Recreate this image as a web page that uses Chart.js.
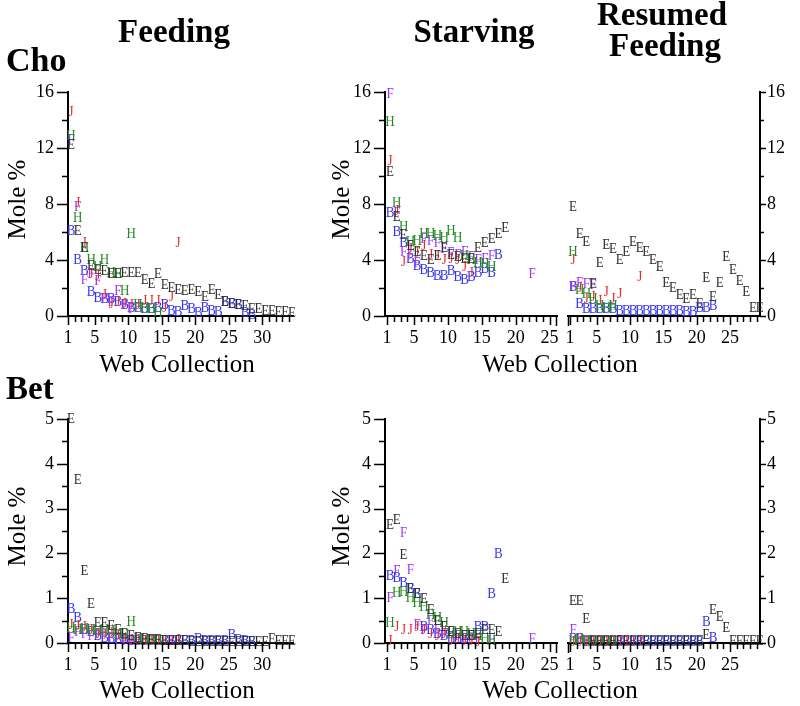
<!DOCTYPE html>
<html>
<head>
<meta charset="utf-8">
<script src="https://cdn.jsdelivr.net/npm/chart.js@4.4.1/dist/chart.umd.min.js"></script>
<style>
html,body{margin:0;padding:0;background:#fff;}
#wrap{position:relative;width:800px;height:706px;overflow:hidden;font-family:'Liberation Serif','Times New Roman',serif;color:#000;}
#wrap canvas{position:absolute;left:0;top:0;}
.t{position:absolute;white-space:nowrap;line-height:1;}
.b{font-weight:bold;}
.ctr{text-align:center;width:300px;}
.rot{text-align:center;width:200px;height:25px;font-size:25px;line-height:25px;transform:rotate(-90deg);transform-origin:50% 50%;}
</style>
</head>
<body>
<div id="wrap">
<canvas id="c1" width="800" height="706"></canvas>
<canvas id="c2" width="800" height="706"></canvas>
<canvas id="c3" width="800" height="706"></canvas>
<canvas id="c4" width="800" height="706"></canvas>
<canvas id="c5" width="800" height="706"></canvas>
<canvas id="c6" width="800" height="706"></canvas>

<div class="t b ctr" style="font-size:33px;left:24px;top:15px;">Feeding</div>
<div class="t b ctr" style="font-size:33px;left:324px;top:15px;">Starving</div>
<div class="t b ctr" style="font-size:33px;left:512px;top:-2px;">Resumed</div>
<div class="t b ctr" style="font-size:33px;left:515px;top:29px;">Feeding</div>
<div class="t b" style="font-size:34px;left:6px;top:43px;">Cho</div>
<div class="t b" style="font-size:33px;left:6px;top:372px;">Bet</div>

<div class="t rot" style="left:-84px;top:187px;">Mole %</div>
<div class="t rot" style="left:240px;top:187px;">Mole %</div>
<div class="t rot" style="left:-84px;top:514px;">Mole %</div>
<div class="t rot" style="left:240px;top:514px;">Mole %</div>

<div class="t ctr" style="font-size:25px;left:27px;top:351px;">Web Collection</div>
<div class="t ctr" style="font-size:25px;left:410px;top:351px;">Web Collection</div>
<div class="t ctr" style="font-size:25px;left:27px;top:677px;">Web Collection</div>
<div class="t ctr" style="font-size:25px;left:410px;top:677px;">Web Collection</div>
</div>

<script>
// ---------- DATA (Mole %, index 0 = web collection 1) ----------
// Cho, Feeding
const choFeedE = [12.2, 6.1, 4.9, 3.6, 3.3, 3.2, 3.0, 3.0, 3.1, 3.1, 3.1, 2.6, 2.3, 3.0, 2.2, 2.0, 1.9, 1.8, 1.9, 1.7, 1.4, 1.9, 1.5, 1.0, 0.9, 0.8, 0.7, 0.5, 0.5, 0.4, 0.4, 0.3, 0.3, 0.2];
const choFeedB = [6.1, 4.0, 3.2, 1.7, 1.3, 1.2, 1.2, 1.0, 0.8, 0.6, 0.6, 0.5, 0.5, 0.6, 0.8, 0.4, 0.3, 0.7, 0.5, 0.2, 0.6, 0.4, 0.3, 1.0, 0.9, 0.8, 0.2, 0.1];
const choFeedH = [12.9, 7.0, 4.9, 4.0, 3.5, 4.0, 3.1, 3.0, 1.8, 5.9, 0.8, 0.6, 0.5, 0.2];
const choFeedJ = [14.6, 8.1, 5.2, 3.0, 2.9, 1.5, 0.9, 1.0, 0.9, 0.8, 0.8, 1.1, 1.1, 1.1, 0.6, 1.4, 5.2];
const choFeedF = [12.6, 7.8, 2.6, 3.0, 2.5, 1.2, 1.0, 1.8, 0.8, 0.5];
// Cho, Starving
const choStarveE = [10.3, 7.1, 5.8, 5.0, 4.6, 4.3, 4.0, 4.3, 4.9, 4.4, 4.2, 4.1, 4.1, 4.9, 5.2, 5.5, 5.9, 6.3];
const choStarveB = [7.4, 6.0, 5.2, 4.1, 3.6, 3.3, 3.1, 2.9, 2.9, 3.2, 2.8, 2.6, 2.8, 3.1, 3.4, 3.1, 4.4];
const choStarveH = [13.9, 8.1, 6.4, 5.3, 5.4, 5.9, 5.9, 5.7, 5.6, 6.1, 5.6, 4.3, 4.0, 3.8, 3.7, 3.5];
const choStarveJ = [11.1, 7.5, 3.9, 4.8, 4.5, 5.0, 4.4, 4.3, 4.0, 4.1, 4.0, 3.5, 3.1];
const choStarveF = [15.9, 7.4, 4.6, 4.4, 3.8, 5.5, 5.4, 5.2, 4.8, 4.5, 4.4, 4.6, 4.2, 4.0, 4.1, 4.3, null, null, null, null, null, 3.0];
// Cho, Resumed Feeding
const choResumeE = [7.8, 5.9, 5.3, 2.3, 3.8, 5.1, 4.8, 4.0, 4.6, 5.3, 4.9, 4.6, 4.0, 3.5, 2.4, 2.0, 1.5, 1.2, 1.5, 0.9, 2.7, 1.4, 2.4, 4.2, 3.3, 2.5, 1.7, 0.6, 0.6];
const choResumeB = [2.1, 0.9, 0.5, 0.5, 0.5, 0.5, 0.5, 0.4, 0.4, 0.4, 0.4, 0.4, 0.4, 0.4, 0.4, 0.4, 0.4, 0.3, 0.3, 0.6, 0.6, 0.7];
const choResumeH = [4.6, 1.9, 1.6, 1.2, 0.7, 0.6, 0.7];
const choResumeJ = [4.0, 2.0, 1.2, 1.4, 1.1, 1.7, 1.2, 1.6, null, null, 2.8];
const choResumeF = [2.1, 2.4, 2.3, 2.2];
// Bet, Feeding
const betFeedE = [5.0, 3.63, 1.6, 0.88, 0.45, 0.45, 0.38, 0.3, 0.2, 0.15, 0.12, 0.1, 0.08, 0.06, 0.05, 0.05, 0.04, 0.04, 0.03, 0.03, 0.03, 0.03, 0.03, 0.03, 0.03, 0.03, 0.03, 0.03, 0.03, 0.03, 0.1, 0.05, 0.05, 0.05];
const betFeedB = [0.76, 0.56, 0.3, 0.25, 0.15, 0.12, 0.1, 0.08, 0.06, 0.05, 0.05, 0.04, 0.04, 0.04, 0.04, 0.04, 0.04, 0.04, 0.05, 0.1, 0.05, 0.05, 0.05, 0.05, 0.18, 0.08, 0.05, 0.03];
const betFeedH = [0.33, 0.3, 0.32, 0.3, 0.26, 0.3, 0.27, 0.2, 0.18, 0.46, 0.1, 0.08, 0.06, 0.04];
const betFeedJ = [0.4, 0.38, 0.35, 0.3, 0.2, 0.18, 0.22, 0.15, 0.1, 0.07, 0.06, 0.05, 0.05, 0.04, 0.04, 0.04, 0.07];
const betFeedF = [0.12, 0.25, 0.2, 0.15, 0.2, 0.25, 0.12, 0.1, 0.05, 0.05];
// Bet, Starving
const betStarveE = [2.64, 2.75, 1.97, 1.2, 1.1, 0.98, 0.75, 0.5, 0.35, 0.25, 0.2, 0.15, 0.15, 0.2, 0.3, 0.3, 0.25, 1.44];
const betStarveB = [1.5, 1.45, 1.35, 1.2, 1.1, 0.35, 0.3, 0.2, 0.15, 0.1, 0.1, 0.1, 0.15, 0.35, 0.35, 1.1, 2.0];
const betStarveH = [0.44, 1.12, 1.15, 1.0, 0.9, 0.8, 0.62, 0.55, 0.45, 0.2, 0.25, 0.25, 0.2, 0.15, 0.1, 0.05];
const betStarveJ = [0.05, 0.37, 0.3, 0.3, 0.35, 0.3, 0.2, 0.15, 0.2, 0.05, 0.1, 0.05, 0.05, 0.02];
const betStarveF = [1.0, 1.6, 2.45, 1.63, 0.4, 0.3, 0.5, 0.3, 0.2, 0.25, 0.15, 0.1, 0.1, 0.1, null, 0.1, null, null, null, null, null, 0.1];
// Bet, Resumed Feeding
const betResumeE = [0.94, 0.94, 0.53, 0.05, 0.05, 0.05, 0.05, 0.05, 0.05, 0.05, 0.05, 0.05, 0.05, 0.05, 0.05, 0.05, 0.05, 0.05, 0.05, 0.05, 0.19, 0.74, 0.59, 0.34, 0.05, 0.05, 0.05, 0.05, 0.05];
const betResumeB = [0.1, 0.1, 0.03, 0.03, 0.03, 0.03, 0.03, 0.03, 0.03, 0.03, 0.03, 0.03, 0.03, 0.03, 0.03, 0.03, 0.03, 0.03, 0.03, 0.03, 0.48, 0.12];
const betResumeH = [0.05, 0.08, 0.05, 0.03, 0.03, 0.03, 0.03];
const betResumeJ = [0.03, 0.03, 0.02, 0.02, 0.02, 0.02, 0.02, 0.05, 0.02, 0.02, 0.05];
const betResumeF = [0.3, 0.1, 0.05, 0.03];

// tick label sets
const xTickLabels = [1, 5, 10, 15, 20, 25, 30];
const choYTickLabels = [0, 4, 8, 12, 16];
const betYTickLabels = [0, 1, 2, 3, 4, 5];

// ---------- STYLE ----------
const seriesOrder = ['B', 'F', 'J', 'H', 'E'];
const seriesColor = {E: '#2e2e2e', B: '#3434ee', H: '#228a22', J: '#e82a2a', F: '#9a36ff'};
const FONT = 'Liberation Serif';

function toPoints(arr) {
  const out = [];
  arr.forEach((v, i) => { if (v !== null) out.push({x: i + 1, y: v}); });
  return out;
}

const letterPlugin = {
  id: 'letters',
  afterDatasetsDraw(chart) {
    const ctx = chart.ctx;
    chart.data.datasets.forEach((ds, i) => {
      const meta = chart.getDatasetMeta(i);
      meta.data.forEach(el => {
        ctx.save();
        ctx.font = '13px "' + FONT + '"';
        ctx.textAlign = 'center';
        ctx.textBaseline = 'middle';
        ctx.fillStyle = ds.letterColor;
        ctx.translate(el.x + 3, el.y);
        ctx.scale(1, 1.2);
        ctx.fillText(ds.label, 0, 0);
        ctx.restore();
      });
    });
  }
};

const tickPlugin = {
  id: 'tickmarks',
  afterDraw(chart) {
    const ctx = chart.ctx;
    const xs = chart.scales.x, ys = chart.scales.y;
    const o = chart.options.plugins.tickmarks || {};
    ctx.save();
    ctx.strokeStyle = '#000';
    ctx.lineWidth = 1.5;
    ctx.beginPath();
    xs.ticks.forEach(t => {
      const px = Math.round(xs.getPixelForValue(t.value)) + 0.5;
      const len = t.label !== '' ? 9 : 6;
      ctx.moveTo(px, xs.top); ctx.lineTo(px, xs.top + len);
    });
    if (o.breakRight) { ctx.moveTo(xs.right - 0.5, xs.top); ctx.lineTo(xs.right - 0.5, xs.top + 10); }
    if (o.breakLeft) { ctx.moveTo(xs.left + 0.5, xs.top); ctx.lineTo(xs.left + 0.5, xs.top + 10); }
    ys.ticks.forEach(t => {
      const py = Math.round(ys.getPixelForValue(t.value)) + 0.5;
      if (ys.position === 'left') {
        const len = t.label !== '' ? 11 : 6;
        ctx.moveTo(ys.right, py); ctx.lineTo(ys.right - len, py);
      } else {
        const len = t.label !== '' ? 6 : 4;
        ctx.moveTo(ys.left, py); ctx.lineTo(ys.left + len, py);
      }
    });
    ctx.stroke();
    ctx.restore();
  }
};

function makePanel(id, series, cfg) {
  const datasets = seriesOrder.map(L => ({
    label: L,
    data: toPoints(series[L]),
    pointRadius: 0,
    pointHoverRadius: 0,
    letterColor: seriesColor[L]
  }));
  const yLabels = cfg.yLabels;
  const yStep = cfg.yStep;
  const yMax = yLabels[yLabels.length - 1];
  const rightAxis = cfg.yPos === 'right';
  new Chart(document.getElementById(id), {
    type: 'scatter',
    data: {datasets},
    options: {
      responsive: false,
      animation: false,
      events: [],
      layout: {padding: cfg.pad},
      plugins: {
        legend: {display: false},
        tooltip: {enabled: false},
        tickmarks: {breakLeft: cfg.breakLeft, breakRight: cfg.breakRight}
      },
      scales: {
        x: {
          type: 'linear', bounds: 'data', min: cfg.xMin, max: cfg.xMax,
          afterBuildTicks: s => {
            const t = [];
            for (let v = 1; v <= Math.floor(cfg.xMax); v++) t.push({value: v});
            s.ticks = t;
          },
          afterFit: s => { s.height = 40; },
          grid: {display: true, drawOnChartArea: false, drawTicks: true, tickLength: 9, tickColor: 'rgba(0,0,0,0)'},
          border: {display: true, color: '#000', width: 2},
          ticks: {
            autoSkip: false, maxRotation: 0, minRotation: 0, padding: 2, color: '#000',
            font: {family: FONT, size: 18},
            callback: v => xTickLabels.includes(v) ? String(v) : ''
          }
        },
        y: {
          type: 'linear', bounds: 'data', position: cfg.yPos, min: 0, max: yMax,
          afterBuildTicks: s => {
            const t = [];
            for (let k = 0; k * yStep <= yMax + 1e-9; k++) t.push({value: +(k * yStep).toFixed(2)});
            s.ticks = t;
          },
          afterFit: s => { s.width = rightAxis ? 30 : 50; },
          grid: {display: true, drawOnChartArea: false, drawTicks: true, tickLength: rightAxis ? 6 : 11, tickColor: 'rgba(0,0,0,0)'},
          border: {display: true, color: '#000', width: 2},
          ticks: {
            autoSkip: false, padding: rightAxis ? 1 : 3, color: '#000',
            font: {family: FONT, size: 18},
            callback: v => yLabels.includes(v) ? String(v) : ''
          }
        }
      }
    },
    plugins: [letterPlugin, tickPlugin]
  });
}

const topRow = {top: 92, bottom: 350};
const botRow = {top: 419, bottom: 23};

makePanel('c1', {E: choFeedE, B: choFeedB, H: choFeedH, J: choFeedJ, F: choFeedF},
  {xMin: 1, xMax: 34.6, yLabels: choYTickLabels, yStep: 2, yPos: 'left',
   pad: {left: 18, right: 507, top: topRow.top, bottom: topRow.bottom}});
makePanel('c2', {E: choStarveE, B: choStarveB, H: choStarveH, J: choStarveJ, F: choStarveF},
  {xMin: 0.7, xMax: 26.1, yLabels: choYTickLabels, yStep: 2, yPos: 'left', breakRight: true,
   pad: {left: 335, right: 243, top: topRow.top, bottom: topRow.bottom}});
makePanel('c3', {E: choResumeE, B: choResumeB, H: choResumeH, J: choResumeJ, F: choResumeF},
  {xMin: 0.7, xMax: 29.5, yLabels: choYTickLabels, yStep: 2, yPos: 'right', breakLeft: true,
   pad: {left: 568, right: 10, top: topRow.top, bottom: topRow.bottom}});
makePanel('c4', {E: betFeedE, B: betFeedB, H: betFeedH, J: betFeedJ, F: betFeedF},
  {xMin: 1, xMax: 34.6, yLabels: betYTickLabels, yStep: 0.5, yPos: 'left',
   pad: {left: 18, right: 507, top: botRow.top, bottom: botRow.bottom}});
makePanel('c5', {E: betStarveE, B: betStarveB, H: betStarveH, J: betStarveJ, F: betStarveF},
  {xMin: 0.7, xMax: 26.1, yLabels: betYTickLabels, yStep: 0.5, yPos: 'left', breakRight: true,
   pad: {left: 335, right: 243, top: botRow.top, bottom: botRow.bottom}});
makePanel('c6', {E: betResumeE, B: betResumeB, H: betResumeH, J: betResumeJ, F: betResumeF},
  {xMin: 0.7, xMax: 29.5, yLabels: betYTickLabels, yStep: 0.5, yPos: 'right', breakLeft: true,
   pad: {left: 568, right: 10, top: botRow.top, bottom: botRow.bottom}});
</script>
</body>
</html>
